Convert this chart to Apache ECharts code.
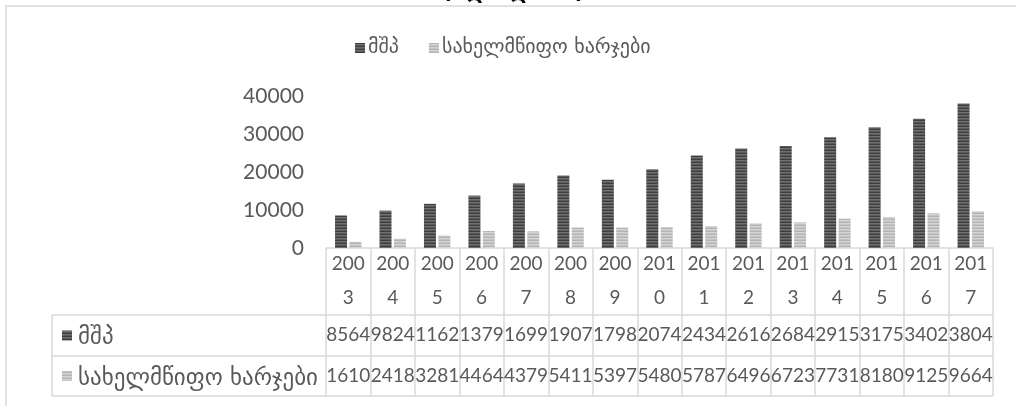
<!DOCTYPE html>
<html>
<head>
<meta charset="utf-8">
<script src="https://cdn.jsdelivr.net/npm/echarts@6/dist/echarts.min.js"></script>
<style>
html,body{margin:0;padding:0;background:#fff;}
#chart{width:1016px;height:406px;}
</style>
</head>
<body>
<div id="chart"></div>
<script>
const years = ['2003','2004','2005','2006','2007','2008','2009','2010','2011','2012','2013','2014','2015','2016','2017'];
const gdp = [8564, 9824, 11621, 13790, 16994, 19075, 17986, 20743, 24344, 26167, 26847, 29151, 31756, 34029, 38041];
const govSpending = [1610, 2418, 3281, 4464, 4379, 5411, 5397, 5480, 5787, 6496, 6723, 7731, 8180, 9125, 9664];
const seriesNames = ['მშპ', 'სახელმწიფო ხარჯები'];
const yTicks = { min: 0, max: 40000, interval: 10000 };
const titleText = '(მლნ ლარი)';

const FONT = "Lato, 'DejaVu Sans', sans-serif";
const GEO = "'DejaVu Sans', sans-serif";
const TXT = '#595959';
const LINE = '#d9d9d9';

function stripes(colors) {
  const c = document.createElement('canvas');
  c.width = 4; c.height = colors.length;
  const ctx = c.getContext('2d');
  colors.forEach((col, i) => { ctx.fillStyle = col; ctx.fillRect(0, i, 4, 1); });
  return { image: c, repeat: 'repeat' };
}
const darkFill = stripes(['#3e3e3e', '#707070', '#5a5a5a']);
const lightFill = stripes(['#b4b4b4', '#d4d4d4', '#c4c4c4']);

const chart = echarts.init(document.getElementById('chart'));

const gridLeft = 326, gridRight = 23, gridTop = 96, gridBottom = 158;
const tableLeft = 52, tableRight = 1016 - gridRight;
const rowLines = [250, 315, 356, 396];

const graphics = [
  { type: 'text', x: 442, y: 3, style: { text: titleText, fill: '#000', font: 'bold 22px ' + GEO, textVerticalAlign: 'bottom', verticalAlign: 'bottom' }, silent: true },
  { type: 'rect', shape: { x: 6, y: 6, width: 1030, height: 420 }, style: { fill: '#fff', stroke: LINE, lineWidth: 1.5 }, silent: true, z: -10 }
];
rowLines.slice(1).forEach(y => {
  graphics.push({ type: 'line', shape: { x1: tableLeft, y1: y, x2: tableRight, y2: y }, style: { stroke: LINE, lineWidth: 1.5 }, silent: true });
});
graphics.push({ type: 'line', shape: { x1: tableLeft, y1: 315, x2: tableLeft, y2: 396 }, style: { stroke: LINE, lineWidth: 1.5 }, silent: true });
const rowCenters = [335.5, 376];
const rowFills = [darkFill, lightFill];
seriesNames.forEach((n, i) => {
  graphics.push({ type: 'rect', shape: { x: 62, y: rowCenters[i] - 5, width: 10, height: 10 }, style: { fill: rowFills[i] }, silent: true });
  graphics.push({ type: 'text', x: 78, y: rowCenters[i] + 3, style: { text: n, fill: TXT, font: '23px ' + GEO, textVerticalAlign: 'middle', verticalAlign: 'middle' }, silent: true });
});

const clip4 = v => String(v).slice(0, 4);

chart.setOption({
  backgroundColor: '#fff',
  animation: false,
  legend: {
    top: 33, left: 350,
    icon: 'rect', itemWidth: 10, itemHeight: 10, itemGap: 30,
    textStyle: { color: TXT, fontSize: 20, fontFamily: GEO, padding: [0, 0, 0, -2] },
    data: seriesNames
  },
  grid: { left: gridLeft, right: gridRight, top: gridTop, bottom: gridBottom, containLabel: false },
  xAxis: [
    {
      type: 'category', data: years, position: 'bottom',
      axisLine: { show: true, lineStyle: { color: LINE, width: 1.5 } },
      axisTick: { show: true, length: 148, lineStyle: { color: LINE, width: 1.5 } },
      axisLabel: {
        interval: 0, margin: -1, color: TXT, fontSize: 19, fontFamily: FONT, lineHeight: 34,
        formatter: v => v.slice(0, 3) + '\n' + v.slice(3)
      }
    },
    {
      type: 'category', data: gdp.map(clip4), position: 'bottom', offset: 67,
      axisLine: { show: false }, axisTick: { show: false },
      axisLabel: { interval: 0, margin: 10, color: TXT, fontSize: 19, fontFamily: FONT }
    },
    {
      type: 'category', data: govSpending.map(clip4), position: 'bottom', offset: 108,
      axisLine: { show: false }, axisTick: { show: false },
      axisLabel: { interval: 0, margin: 10, color: TXT, fontSize: 19, fontFamily: FONT }
    }
  ],
  yAxis: {
    type: 'value', min: yTicks.min, max: yTicks.max, interval: yTicks.interval,
    axisLine: { show: false }, axisTick: { show: false }, splitLine: { show: false },
    axisLabel: { color: TXT, fontSize: 21, fontFamily: FONT, margin: 22, formatter: v => String(v) }
  },
  series: [
    { name: seriesNames[0], type: 'bar', data: gdp, barWidth: 12, barGap: '20%', itemStyle: { color: darkFill } },
    { name: seriesNames[1], type: 'bar', data: govSpending, barWidth: 12, itemStyle: { color: lightFill } }
  ],
  graphic: graphics
});
</script>
</body>
</html>
